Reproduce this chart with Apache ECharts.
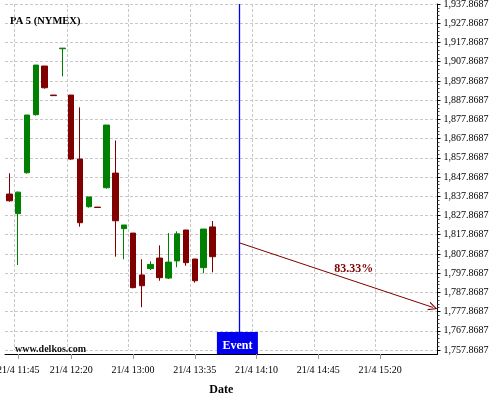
<!DOCTYPE html>
<html><head><meta charset="utf-8">
<script src="https://cdn.jsdelivr.net/npm/echarts@6/dist/echarts.min.js"></script>
<style>html,body{margin:0;padding:0;background:#fff}#c{width:500px;height:400px}</style>
</head><body><div id="c"></div>
<script>
const categories = [
  '21/4 11:40','21/4 11:45','21/4 11:50','21/4 11:55','21/4 12:00','21/4 12:05','21/4 12:15','21/4 12:20',
  '21/4 12:25','21/4 12:30','21/4 12:35','21/4 12:40','21/4 12:45','21/4 12:55','21/4 13:00','21/4 13:05',
  '21/4 13:10','21/4 13:15','21/4 13:20','21/4 13:25','21/4 13:30','21/4 13:35','21/4 13:40','21/4 13:45',
  '21/4 13:50','21/4 13:55','21/4 14:00','21/4 14:05','21/4 14:10','21/4 14:15','21/4 14:20','21/4 14:25',
  '21/4 14:30','21/4 14:35','21/4 14:40','21/4 14:45','21/4 14:50','21/4 14:55','21/4 15:00','21/4 15:05',
  '21/4 15:10','21/4 15:15','21/4 15:20','21/4 15:25','21/4 15:30','21/4 15:35','21/4 15:40','21/4 15:45',
  '21/4 15:50'
];
const opens  = [1839.0,1828.8,1850.1,1880.3,1905.6,1890.5,1914.6,1890.5,1857.2,1832.4,1832.2,1842.3,1849.9,1821.0,1818.7,1796.9,1800.2,1805.7,1795.3,1804.2,1820.3,1805.2,1800.7,1821.9];
const closes = [1835.5,1840.0,1880.1,1906.1,1894.3,1890.2,1914.9,1857.2,1824.1,1837.5,1832.0,1874.9,1825.1,1822.9,1790.3,1791.3,1802.4,1795.5,1803.6,1818.3,1803.3,1793.9,1820.8,1806.4];
const lows   = [1835.0,1802.1,1849.6,1879.8,1893.8,1890.2,1900.2,1856.8,1822.0,1831.9,1832.0,1841.8,1806.4,1805.1,1790.0,1780.1,1799.5,1793.9,1794.8,1800.9,1801.7,1792.9,1797.8,1798.3];
const highs  = [1849.8,1840.3,1880.1,1906.1,1905.6,1890.5,1914.9,1890.5,1884.1,1837.5,1832.2,1874.9,1866.9,1822.9,1818.7,1805.1,1804.0,1812.3,1818.7,1819.6,1820.3,1805.2,1820.8,1825.0];
const xTickLabels = ['21/4 11:45','21/4 12:20','21/4 13:00','21/4 13:35','21/4 14:10','21/4 14:45','21/4 15:20'];
const yTickLabels = ['1,757.8687','1,767.8687','1,777.8687','1,787.8687','1,797.8687','1,807.8687','1,817.8687',
  '1,827.8687','1,837.8687','1,847.8687','1,857.8687','1,867.8687','1,877.8687','1,887.8687','1,897.8687',
  '1,907.8687','1,917.8687','1,927.8687','1,937.8687'];
const yMin = 1757.8687, yMax = 1937.8687, yStep = 10;
const eventCategory = '21/4 14:00';
const arrowStart = ['21/4 14:00', 1813.7];
const arrowEnd = ['21/4 15:50', 1780.0];
const forecastText = '83.33%';
const forecastPos = ['21/4 15:05', 1800.0];

const FONT = 'Liberation Serif';
const chart = echarts.init(document.getElementById('c'), null, {renderer: 'canvas'});
const showTick = (i, v) => xTickLabels.indexOf(v) >= 0;
const candleData = opens.map((o, i) => [o, closes[i], lows[i], highs[i]]);

chart.setOption({
  animation: false,
  backgroundColor: '#fff',
  grid: {left: 5, right: 62.5, top: 4, bottom: 50, containLabel: false, outerBoundsMode: 'none'},
  xAxis: {
    type: 'category', data: categories, boundaryGap: true, offset: 4,
    axisLine: {show: true, lineStyle: {color: '#000', width: 1}},
    axisTick: {show: true, alignWithLabel: true, interval: showTick, length: 5, lineStyle: {color: '#999'}},
    axisLabel: {interval: showTick, fontSize: 10, fontFamily: FONT, color: '#000', margin: 11},
    splitLine: {show: true, interval: showTick, lineStyle: {color: '#c8c8c8', type: [3, 2], width: 1}},
    name: 'Date', nameLocation: 'middle', nameGap: 30,
    nameTextStyle: {fontFamily: FONT, fontWeight: 'bold', fontSize: 12, color: '#000'}
  },
  yAxis: {
    type: 'value', position: 'right', min: yMin, max: yMax, interval: yStep, scale: true,
    axisLine: {show: true, lineStyle: {color: '#000', width: 1}},
    axisTick: {show: true, length: 3, lineStyle: {color: '#000'}},
    minorTick: {show: true, splitNumber: 5, length: 2, lineStyle: {color: '#444'}},
    axisLabel: {fontSize: 10, fontFamily: FONT, color: '#000', margin: 6,
      formatter: v => yTickLabels[Math.round((v - yMin) / yStep)] || ''},
    splitLine: {show: true, lineStyle: {color: '#c8c8c8', type: [3, 2], width: 1}}
  },
  series: [{
    type: 'candlestick', data: candleData, barWidth: 6, silent: true,
    itemStyle: {color: '#008000', color0: '#800000', borderColor: '#008000', borderColor0: '#800000', borderWidth: 1},
    markLine: {
      silent: true, animation: false, symbol: ['none', 'none'],
      label: {show: false},
      data: [
        {xAxis: eventCategory, lineStyle: {color: '#0000ff', width: 1.3, type: 'solid'}},
        [
          {coord: arrowStart, symbol: 'none', lineStyle: {color: '#800000', width: 1, type: 'solid'}},
          {coord: arrowEnd, symbol: 'path://M0,10 L5,0 L10,10 L8.6,10 L5,2.6 L1.4,10 Z', symbolSize: [9, 9]}
        ]
      ]
    },
    markPoint: {
      silent: true, symbol: 'circle', symbolSize: 0,
      itemStyle: {color: 'rgba(0,0,0,0)'},
      label: {show: true, position: 'inside', formatter: forecastText, color: '#800000',
        fontFamily: FONT, fontWeight: 'bold', fontSize: 12},
      data: [{coord: forecastPos}]
    }
  }]
});

const ex = chart.convertToPixel({xAxisIndex: 0}, eventCategory);
const gRight = 500 - 62.5;
chart.setOption({
  graphic: [
    {type: 'text', left: 10, top: 16, z: 10,
      style: {text: 'PA 5 (NYMEX)', font: 'bold 10.5px "Liberation Serif"', fill: '#000'}},
    {type: 'text', left: 15, top: 344, z: 10,
      style: {text: 'www.delkos.com', font: 'bold 10px "Liberation Serif"', fill: '#111'}},
    {type: 'line', z: 10, shape: {x1: gRight, y1: 349.5, x2: gRight, y2: 354.5}, style: {stroke: '#000', lineWidth: 1}},
    {type: 'rect', z: 20, shape: {x: ex - 22, y: 332, width: 41, height: 22}, style: {fill: '#0000ee'}},
    {type: 'text', z: 21, x: ex - 1.5, y: 346,
      style: {text: 'Event', font: 'bold 12px "Liberation Serif"', fill: '#fff', align: 'center', verticalAlign: 'middle'}}
  ]
});
</script></body></html>
